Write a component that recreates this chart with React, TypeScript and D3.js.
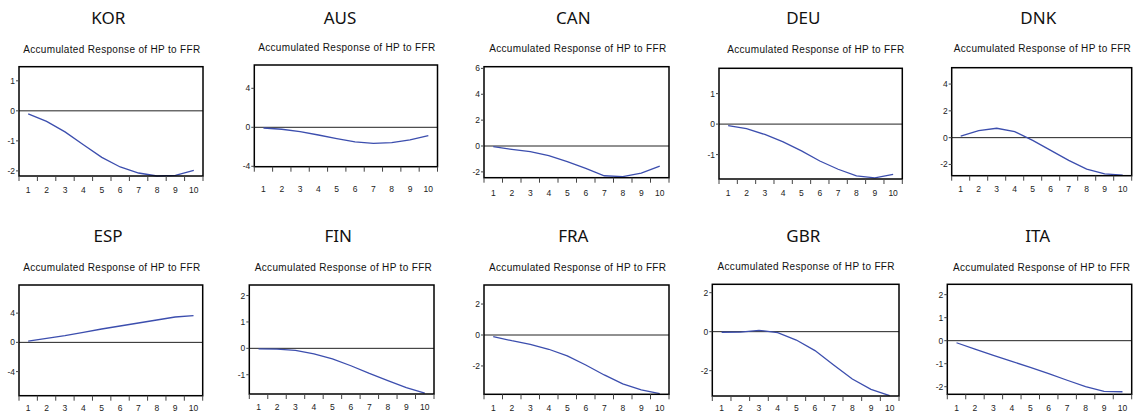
import React from "react";
import * as d3 from "d3";

const countries = ["KOR", "AUS", "CAN", "DEU", "DNK", "ESP", "FIN", "FRA", "GBR", "ITA"];
const horizons = [1, 2, 3, 4, 5, 6, 7, 8, 9, 10];
const subtitle = "Accumulated Response of HP  to FFR";

const korValues = [-0.1, -0.35, -0.7, -1.13, -1.55, -1.87, -2.07, -2.17, -2.15, -1.98];
const ausValues = [-0.07, -0.2, -0.44, -0.79, -1.16, -1.5, -1.64, -1.57, -1.3, -0.85];
const canValues = [-0.05, -0.26, -0.44, -0.75, -1.21, -1.73, -2.3, -2.37, -2.1, -1.55];
const deuValues = [-0.05, -0.15, -0.34, -0.58, -0.88, -1.21, -1.48, -1.7, -1.76, -1.65];
const dnkValues = [0.12, 0.52, 0.7, 0.45, -0.2, -0.95, -1.7, -2.35, -2.7, -2.8];
const espValues = [0.18, 0.55, 0.91, 1.37, 1.83, 2.24, 2.65, 3.06, 3.47, 3.65];
const finValues = [-0.02, -0.03, -0.08, -0.21, -0.4, -0.66, -0.95, -1.22, -1.49, -1.7];
const fraValues = [-0.1, -0.37, -0.6, -0.92, -1.35, -1.94, -2.58, -3.16, -3.55, -3.78];
const gbrValues = [-0.03, -0.02, 0.07, -0.05, -0.43, -0.97, -1.71, -2.43, -2.96, -3.28];
const itaValues = [-0.09, -0.37, -0.64, -0.9, -1.16, -1.43, -1.72, -2.0, -2.2, -2.22];

const seriesValues = [korValues, ausValues, canValues, deuValues, dnkValues, espValues, finValues, fraValues, gbrValues, itaValues];

const yDomains = [
  [-2.17, 1.47],
  [-4.04, 6.39],
  [-2.45, 6.13],
  [-1.8, 1.83],
  [-2.84, 5.22],
  [-7.3, 7.85],
  [-1.73, 2.4],
  [-3.83, 3.23],
  [-3.3, 2.43],
  [-2.33, 2.45],
];
const yTicks = [
  [-2, -1, 0, 1],
  [-4, 0, 4],
  [-2, 0, 2, 4, 6],
  [-1, 0, 1],
  [-2, 0, 2, 4],
  [-4, 0, 4],
  [-1, 0, 1, 2],
  [-2, 0, 2],
  [-2, 0, 2],
  [-2, -1, 0, 1, 2],
];

// layout (pixel geometry) per panel
const frames = [
  { l: 19, r: 203, t: 66.7, b: 176, tx: 108.3, ty: 24, sx: 111.7, sy: 52.7, lx: 192.5 },
  { l: 254.3, r: 437.5, t: 65, b: 166.7, tx: 340, ty: 24, sx: 346.7, sy: 51, lx: 191.5 },
  { l: 484, r: 669, t: 66.7, b: 177.7, tx: 573.3, ty: 24, sx: 577.7, sy: 52, lx: 195.5 },
  { l: 719, r: 902.3, t: 68.3, b: 179, tx: 803.3, ty: 24, sx: 815.7, sy: 52.5, lx: 196 },
  { l: 951.7, r: 1131.7, t: 67.7, b: 175.7, tx: 1038.3, ty: 24, sx: 1042.3, sy: 52, lx: 192 },
  { l: 19, r: 202.7, t: 285, b: 395.7, tx: 108, ty: 242.3, sx: 111.7, sy: 271, lx: 411 },
  { l: 249.3, r: 434, t: 285, b: 394, tx: 338.3, ty: 242.3, sx: 343.3, sy: 270.7, lx: 410 },
  { l: 484, r: 669, t: 285, b: 394.3, tx: 573.3, ty: 242.3, sx: 577.5, sy: 270.7, lx: 410.5 },
  { l: 712.3, r: 899, t: 284.3, b: 396, tx: 803.3, ty: 242.3, sx: 806, sy: 269.5, lx: 411 },
  { l: 947.3, r: 1131.7, t: 284.3, b: 394.3, tx: 1037.7, ty: 242.3, sx: 1041.5, sy: 270.7, lx: 411 },
];

const LINE_COLOR = "#3c4eae";
const TEXT_COLOR = "#222";

function Panel({ i }: { i: number }) {
  const f = frames[i];
  const x = d3.scaleLinear().domain([0.5, 10.5]).range([f.l, f.r]);
  const y = d3.scaleLinear().domain(yDomains[i]).range([f.b, f.t]);
  const data = horizons.map((h, k) => [h, seriesValues[i][k]] as [number, number]);
  const path = d3
    .line<[number, number]>()
    .x((d) => x(d[0]))
    .y((d) => y(d[1]))(data) as string;
  const xTickPos = d3.range(0.5, 11, 1);
  return (
    <g>
      <text x={f.tx} y={f.ty} textAnchor="middle" fontFamily="'Noto Sans', sans-serif" fontSize={17} fill="#111">
        {countries[i]}
      </text>
      <text
        x={f.sx}
        y={f.sy}
        textAnchor="middle"
        fontFamily="'Liberation Sans', Arial, sans-serif"
        fontSize={10}
        fill="#111"
        textLength={177}
        lengthAdjust="spacing"
      >
        {subtitle}
      </text>
      {/* zero line */}
      <line x1={f.l} x2={f.r} y1={y(0)} y2={y(0)} stroke="#222" strokeWidth={1} />
      {/* curve */}
      <path d={path} fill="none" stroke={LINE_COLOR} strokeWidth={1.3} />
      {/* frame */}
      <rect x={f.l} y={f.t} width={f.r - f.l} height={f.b - f.t} fill="none" stroke="#000" strokeWidth={1.5} />
      {/* y ticks */}
      {yTicks[i].map((t) => (
        <g key={t}>
          <line x1={f.l - 3} x2={f.l} y1={y(t)} y2={y(t)} stroke="#444" strokeWidth={1} />
          <text
            x={f.l - 4}
            y={y(t) + 3}
            textAnchor="end"
            fontFamily="'Liberation Sans', Arial, sans-serif"
            fontSize={8.5}
            fill={TEXT_COLOR}
          >
            {t}
          </text>
        </g>
      ))}
      {/* x ticks */}
      {xTickPos.map((t) => (
        <line key={t} x1={x(t)} x2={x(t)} y1={f.b} y2={f.b + 5} stroke="#444" strokeWidth={1} />
      ))}
      {horizons.map((h) => (
        <text
          key={h}
          x={x(h)}
          y={f.lx}
          textAnchor="middle"
          fontFamily="'Liberation Sans', Arial, sans-serif"
          fontSize={8.5}
          fill={TEXT_COLOR}
        >
          {h}
        </text>
      ))}
    </g>
  );
}

export default function App() {
  return (
    <svg
      width={1138}
      height={415}
      viewBox="0 0 1138 415"
      style={{ position: "absolute", left: 0, top: 0, background: "#fff" }}
    >
      <rect x={0} y={0} width={1138} height={415} fill="#fff" />
      {countries.map((c, i) => (
        <Panel key={c} i={i} />
      ))}
    </svg>
  );
}
